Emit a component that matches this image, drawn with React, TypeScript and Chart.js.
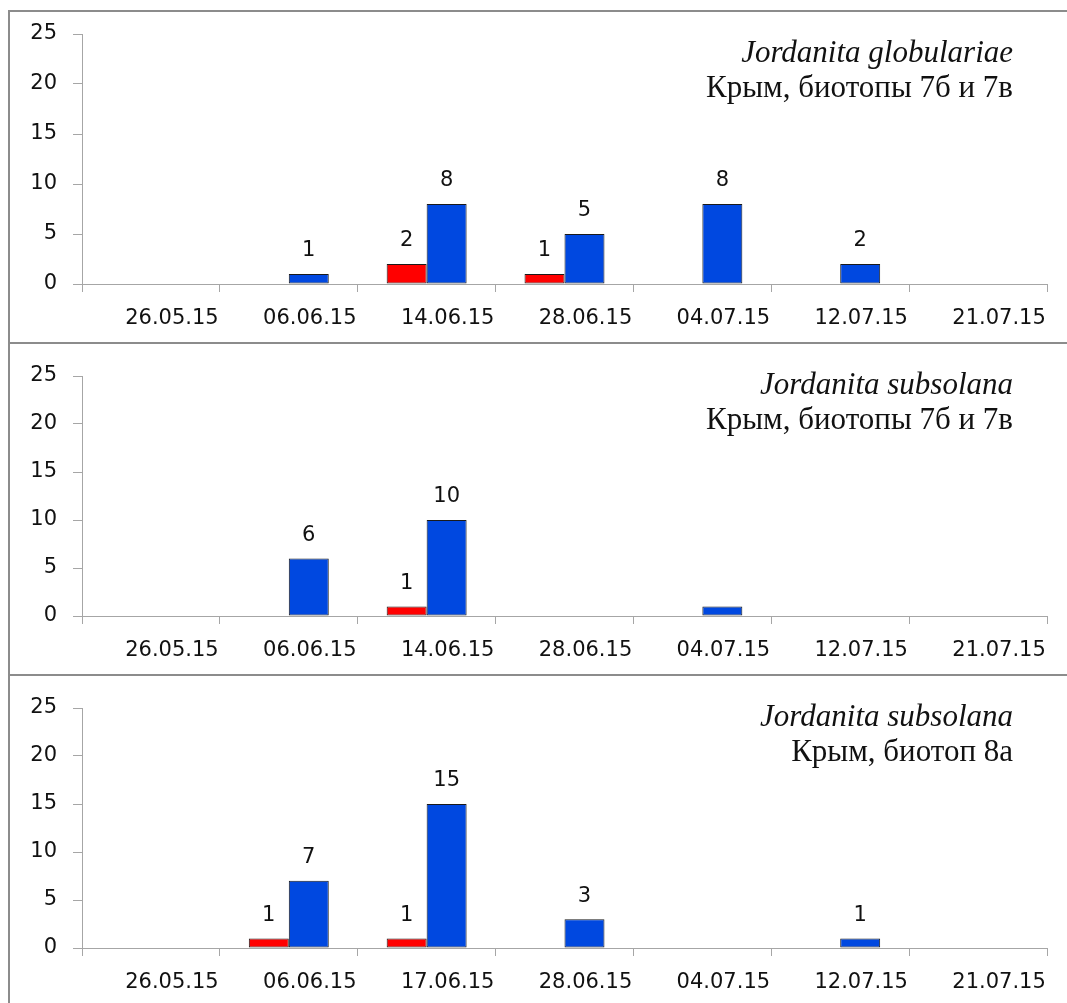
import React, { useEffect, useRef } from "react";
import { Chart, registerables } from "chart.js";

Chart.register(...registerables);

// ---- data ----
const categories1 = ["26.05.15", "06.06.15", "14.06.15", "28.06.15", "04.07.15", "12.07.15", "21.07.15"];
const red1 = [0, 0, 2, 1, 0, 0, 0];
const blue1 = [0, 1, 8, 5, 8, 2, 0];
const hiddenLabels1: number[] = [];
const title1 = ["Jordanita globulariae", "Крым, биотопы 7б и 7в"];

const categories2 = ["26.05.15", "06.06.15", "14.06.15", "28.06.15", "04.07.15", "12.07.15", "21.07.15"];
const red2 = [0, 0, 1, 0, 0, 0, 0];
const blue2 = [0, 6, 10, 0, 1, 0, 0];
const hiddenLabels2 = [4]; // the 04.07.15 bar carries no label in the original
const title2 = ["Jordanita subsolana", "Крым, биотопы 7б и 7в"];

const categories3 = ["26.05.15", "06.06.15", "17.06.15", "28.06.15", "04.07.15", "12.07.15", "21.07.15"];
const red3 = [0, 1, 1, 0, 0, 0, 0];
const blue3 = [0, 7, 15, 3, 0, 1, 0];
const hiddenLabels3: number[] = [];
const title3 = ["Jordanita subsolana", "Крым, биотоп 8а"];

const yTicks = [0, 5, 10, 15, 20, 25];

const AXIS = "#a6a6a6";
const TEXT = "#111111";
const TICK_FONT = { family: "'DejaVu Sans', Verdana, sans-serif", size: 21 };

interface PanelProps {
  categories: string[];
  red: number[];
  blue: number[];
  hidden: number[];
  title: string[];
  width: number;
  height: number;
  padTop: number;
  plotH: number;
}

function Panel(p: PanelProps) {
  const ref = useRef<HTMLCanvasElement | null>(null);
  useEffect(() => {
    if (!ref.current) return;
    const bottomH = p.height - p.padTop - p.plotH;
    const labelPlugin = {
      id: "valLabels",
      afterDatasetsDraw(chart: any) {
        const ctx = chart.ctx;
        ctx.save();
        ctx.font = `${TICK_FONT.size}px ${TICK_FONT.family}`;
        ctx.fillStyle = TEXT;
        ctx.textAlign = "center";
        ctx.textBaseline = "middle";
        chart.data.datasets.forEach((ds: any, di: number) => {
          const meta = chart.getDatasetMeta(di);
          meta.data.forEach((el: any, i: number) => {
            const v = ds.data[i];
            if (!v) return;
            if (di === 1 && p.hidden.includes(i)) return;
            ctx.fillText(String(v), el.x, el.y - 23);
          });
        });
        ctx.restore();
      },
      afterDraw(chart: any) {
        const ctx = chart.ctx;
        ctx.save();
        ctx.fillStyle = TEXT;
        ctx.textAlign = "right";
        ctx.textBaseline = "alphabetic";
        ctx.font = "italic 31px 'Liberation Serif', serif";
        ctx.fillText(p.title[0], 1003, 50);
        ctx.font = "31px 'Liberation Serif', serif";
        ctx.fillText(p.title[1], 1003, 85);
        ctx.restore();
      },
    };
    const chart = new Chart(ref.current, {
      type: "bar",
      data: {
        labels: p.categories,
        datasets: [
          {
            data: p.red,
            backgroundColor: "#ff0000",
            borderColor: "#1a1a1a",
            borderWidth: (c: any) => (c.raw > 0 ? 1 : 0),
            borderSkipped: false,
            categoryPercentage: 0.58,
            barPercentage: 1,
          },
          {
            data: p.blue,
            backgroundColor: "#0048e0",
            borderColor: "#1a1a1a",
            borderWidth: (c: any) => (c.raw > 0 ? 1 : 0),
            borderSkipped: false,
            categoryPercentage: 0.58,
            barPercentage: 1,
          },
        ],
      } as any,
      options: {
        responsive: false,
        animation: false,
        devicePixelRatio: 1,
        layout: { padding: { top: p.padTop, right: 20, left: 0, bottom: 0 } },
        plugins: { legend: { display: false }, tooltip: { enabled: false }, title: { display: false } },
        scales: {
          x: {
            grid: { offset: true, drawOnChartArea: false, drawTicks: true, tickLength: 8, color: AXIS },
            border: { display: true, color: AXIS, width: 1 },
            ticks: {
              labelOffset: 21,
              padding: 14,
              font: TICK_FONT,
              color: TEXT,
              maxRotation: 0,
              autoSkip: false,
            },
            afterFit: (s: any) => {
              s.height = bottomH;
              s.paddingLeft = 0;
              s.paddingRight = 0;
            },
          },
          y: {
            min: 0,
            max: 25,
            afterBuildTicks: (s: any) => {
              s.ticks = yTicks.map((v) => ({ value: v }));
            },
            grid: { drawOnChartArea: false, drawTicks: true, tickLength: 9, color: AXIS },
            border: { display: true, color: AXIS, width: 1 },
            ticks: { font: TICK_FONT, color: TEXT, padding: 16 },
            afterFit: (s: any) => {
              s.width = 72;
              s.paddingTop = 0;
              s.paddingBottom = 0;
            },
          },
        },
      } as any,
      plugins: [labelPlugin],
    });
    return () => chart.destroy();
  }, []);
  return <canvas ref={ref} width={p.width} height={p.height} style={{ display: "block" }} />;
}

const panelStyle = (top: number, h: number): React.CSSProperties => ({
  position: "absolute",
  left: 8,
  top,
  width: 1059,
  height: h,
  boxSizing: "border-box",
  borderTop: "2px solid #8c8c8c",
  borderLeft: "2px solid #8c8c8c",
  background: "#fff",
});

export default function App() {
  return (
    <div style={{ position: "absolute", left: 0, top: 0, width: 1067, height: 1003, background: "#fff", overflow: "hidden" }}>
      <div style={panelStyle(10, 332)}>
        <Panel categories={categories1} red={red1} blue={blue1} hidden={hiddenLabels1} title={title1} width={1057} height={330} padTop={22} plotH={250} />
      </div>
      <div style={panelStyle(342, 332)}>
        <Panel categories={categories2} red={red2} blue={blue2} hidden={hiddenLabels2} title={title2} width={1057} height={330} padTop={32} plotH={240} />
      </div>
      <div style={panelStyle(674, 329)}>
        <Panel categories={categories3} red={red3} blue={blue3} hidden={hiddenLabels3} title={title3} width={1057} height={327} padTop={32} plotH={240} />
      </div>
    </div>
  );
}
